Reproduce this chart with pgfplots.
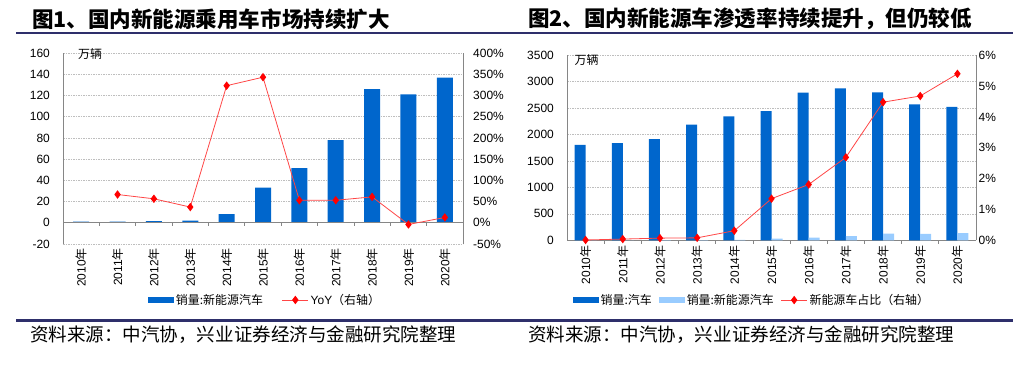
\documentclass[border=0pt]{standalone}
\usepackage{pgfplots}
\pgfplotsset{compat=1.18}
\usepackage{fontspec}
\setmainfont{Liberation Sans}
\newfontfamily\cjk{Noto Sans CJK SC}
\definecolor{barblue}{RGB}{0,102,204}
\definecolor{lightblue}{RGB}{153,204,255}
\definecolor{linered}{RGB}{255,70,70}
\definecolor{gridgray}{RGB}{190,190,190}
\definecolor{axisgray}{RGB}{134,134,134}
\definecolor{rulenavy}{RGB}{46,47,107}
\pgfplotsset{
  barlegend/.style={legend image code/.code={\fill[##1] (0bp,-3bp) rectangle (26bp,3bp);}},
  linelegend/.style={legend image code/.code={\draw[mark repeat=2,mark phase=2,##1] plot coordinates {(0bp,0bp) (13bp,0bp) (26bp,0bp)};}},
  base/.style={
    scale only axis, clip=false,
    xmin=-0.5, xmax=10.5,
    major tick length=0pt,
    tick label style={font=\fontsize{12}{14}\selectfont, text=black},
    y axis line style={draw=axisgray, line width=0.8bp},
    yticklabel style={inner sep=0pt},
    /pgf/number format/assume math mode=true,
  },
  yrlabels/.style={
    xtick={0,...,10},
    xticklabels={2010{\cjk 年},2011{\cjk 年},2012{\cjk 年},2013{\cjk 年},2014{\cjk 年},2015{\cjk 年},2016{\cjk 年},2017{\cjk 年},2018{\cjk 年},2019{\cjk 年},2020{\cjk 年}},
    xticklabel style={rotate=90, anchor=east, inner sep=0pt},
  },
  mygrid/.style={ymajorgrids, grid style={gridgray, dash pattern=on 1.5bp off 1bp, line width=0.6bp}},
  lineplot/.style={color=linered, line width=0.8bp, mark=diamond*, mark size=3.6bp, mark options={fill=red, draw=red, solid}},
}
\begin{document}
\begin{tikzpicture}
\path[use as bounding box] (0,0) rectangle (1029bp,375bp);
% titles and rules
\node[anchor=west, inner sep=0pt, font=\cjk\bfseries\fontsize{21.6}{24}\selectfont] at (32bp,356bp) {图1、国内新能源乘用车市场持续扩大};
\node[anchor=west, inner sep=0pt, font=\cjk\bfseries\fontsize{21.6}{24}\selectfont] at (528bp,356bp) {图2、国内新能源车渗透率持续提升，但仍较低};
\fill[rulenavy] (16bp,340.6bp) rectangle (1013bp,342.8bp);
\fill[rulenavy] (16bp,53.4bp) rectangle (1013bp,55.6bp);
\node[anchor=west, inner sep=0pt, font=\cjk\fontsize{18.6}{20}\selectfont] at (30bp,40bp) {资料来源：中汽协，兴业证券经济与金融研究院整理};
\node[anchor=west, inner sep=0pt, font=\cjk\fontsize{18.6}{20}\selectfont] at (528bp,40bp) {资料来源：中汽协，兴业证券经济与金融研究院整理};

% ---------- Chart 1 ----------
\begin{axis}[base, yrlabels, mygrid,
  at={(63bp,131bp)}, anchor=south west, width=400bp, height=191bp,
  ymin=-20, ymax=160, ytick={-20,0,20,40,60,80,100,120,140,160},
  yticklabels={-20,0,20,40,60,80,100,120,140,160},
  axis y line*=left, axis x line*=bottom, x axis line style={draw=none},
  xticklabel shift=4bp, yticklabel shift=13bp,
  ybar, bar width=16bp]
\addplot[fill=barblue, draw=none] coordinates {(0,1.0) (1,1.0) (2,1.5) (3,2.0) (4,8.2) (5,33.2) (6,51.5) (7,78) (8,126) (9,121) (10,136.7)};
\draw[axisgray, line width=0.8bp] (axis cs:-0.5,0) -- (axis cs:10.5,0);
\pgfplotsinvokeforeach{0.5,1.5,2.5,3.5,4.5,5.5,6.5,7.5,8.5,9.5}{\draw[axisgray, line width=0.8bp] (axis cs:#1,0) -- ++(0bp,-3.5bp);}
\node[anchor=west, inner sep=0pt, font=\cjk\fontsize{12}{14}\selectfont] at (axis description cs:0.0375,0.997) {万辆};
\end{axis}
\begin{axis}[base,
  at={(63bp,131bp)}, anchor=south west, width=400bp, height=191bp,
  ymin=-50, ymax=400, ytick={-50,0,50,100,150,200,250,300,350,400},
  yticklabels={-50\%,0\%,50\%,100\%,150\%,200\%,250\%,300\%,350\%,400\%},
  axis y line*=right, axis x line=none, yticklabel shift=10bp,
  legend style={at={(0.505,-0.293)}, anchor=center, draw=none, fill=none,
    font=\fontsize{12}{14}\selectfont, legend columns=2,
    /tikz/every even column/.append style={column sep=17bp}}]
\addlegendimage{barlegend, fill=barblue, draw=none}
\addlegendentry{{\cjk 销量:新能源汽车}}
\addplot[lineplot, linelegend] coordinates {(1,66.6) (2,56.5) (3,37) (4,323) (5,343) (6,53) (7,53) (8,61) (9,-4) (10,12.5)};
\addlegendentry{YoY{\cjk （右轴）}}
\end{axis}

% ---------- Chart 2 ----------
\begin{axis}[base, yrlabels, mygrid,
  at={(567bp,134.7bp)}, anchor=south west, width=409bp, height=185bp,
  ymin=0, ymax=3500, ytick={0,500,...,3500},
  yticklabels={0,500,1000,1500,2000,2500,3000,3500},
  axis y line*=left, axis x line*=bottom, x axis line style={draw=axisgray, line width=0.8bp},
  xticklabel shift=5bp, yticklabel shift=13bp,
  ybar=0pt, bar width=11bp]
\addplot[fill=barblue, draw=none] coordinates {(0,1803) (1,1838) (2,1916) (3,2189) (4,2346) (5,2446) (6,2794) (7,2875) (8,2800) (9,2573) (10,2522)};
\addplot[fill=lightblue, draw=none] coordinates {(0,0.7) (1,0.8) (2,1.3) (3,1.8) (4,7.5) (5,33.1) (6,50.7) (7,77.7) (8,125.6) (9,120.6) (10,136.7)};
\pgfplotsinvokeforeach{0.5,1.5,2.5,3.5,4.5,5.5,6.5,7.5,8.5,9.5}{\draw[axisgray, line width=0.8bp] (axis cs:#1,0) -- ++(0bp,-3.5bp);}
\node[anchor=west, inner sep=0pt, font=\cjk\fontsize{12}{14}\selectfont] at (axis description cs:0.018,0.975) {万辆};
\end{axis}
\begin{axis}[base,
  at={(567bp,134.7bp)}, anchor=south west, width=409bp, height=185bp,
  ymin=0, ymax=6, ytick={0,1,2,3,4,5,6},
  yticklabels={0\%,1\%,2\%,3\%,4\%,5\%,6\%},
  axis y line*=right, axis x line=none, yticklabel shift=2.5bp,
  legend style={at={(0.452,-0.323)}, anchor=center, draw=none, fill=none,
    font=\fontsize{12}{14}\selectfont, legend columns=3,
    /tikz/every even column/.append style={column sep=5bp}}]
\addlegendimage{barlegend, fill=barblue, draw=none}
\addlegendentry{{\cjk 销量:汽车}}
\addlegendimage{barlegend, fill=lightblue, draw=none}
\addlegendentry{{\cjk 销量:新能源汽车}}
\addplot[lineplot, linelegend] coordinates {(0,0.01) (1,0.04) (2,0.07) (3,0.08) (4,0.31) (5,1.35) (6,1.81) (7,2.69) (8,4.48) (9,4.68) (10,5.40)};
\addlegendentry{{\cjk 新能源车占比（右轴）}}
\end{axis}
\end{tikzpicture}
\end{document}
